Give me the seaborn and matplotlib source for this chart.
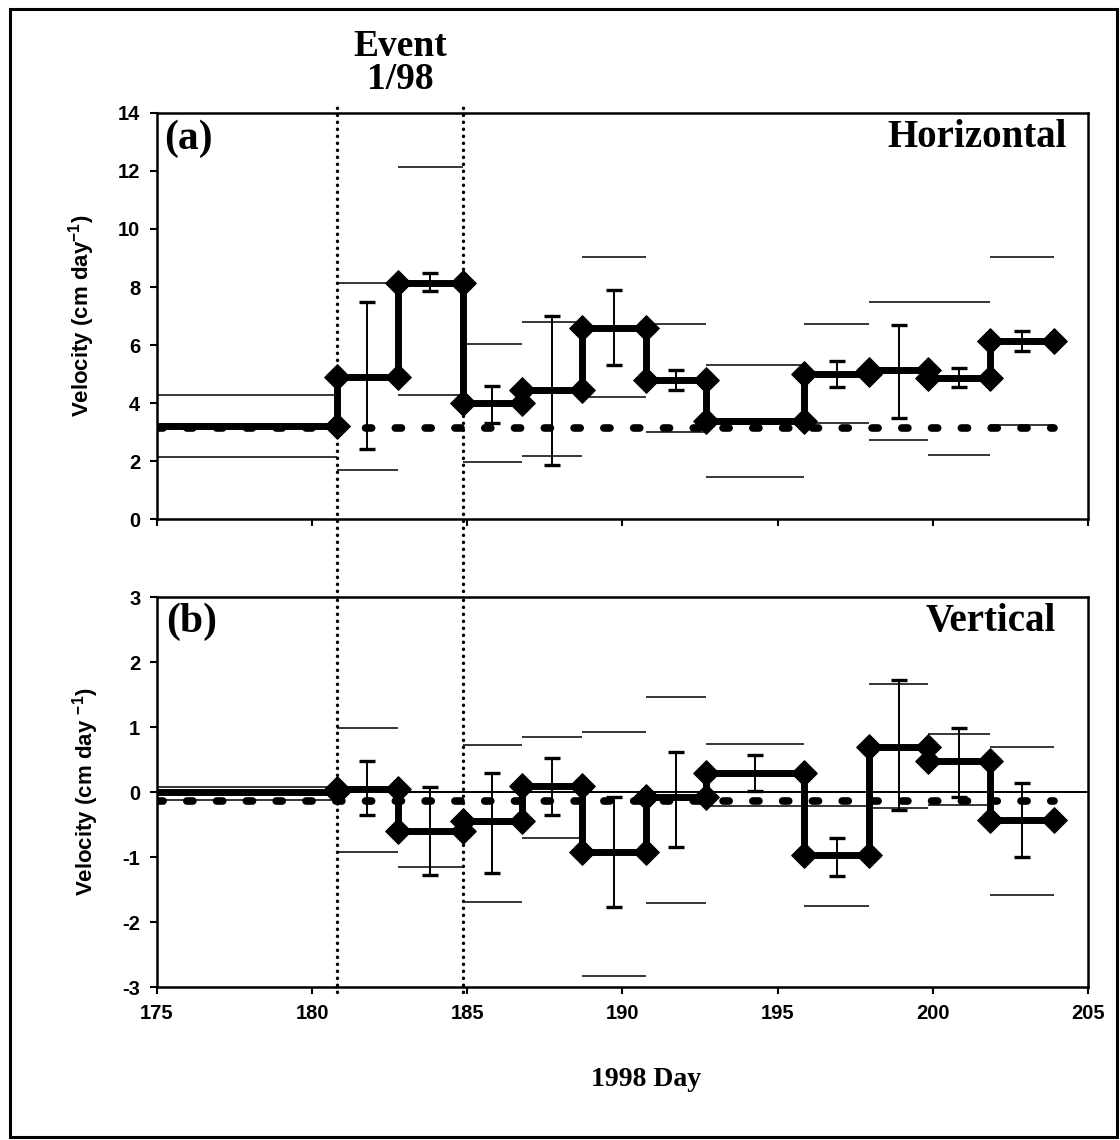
import numpy as np
import pandas as pd
import matplotlib
matplotlib.use("Agg")
import matplotlib.pyplot as plt
import seaborn as sns
from matplotlib.patches import Rectangle

nan = np.nan

# Survey interval boundaries (day of year, 1998)
day_edges = [175.0, 180.8, 182.75, 184.85, 186.75, 188.7, 190.75,
             192.7, 195.85, 197.95, 199.85, 201.85, 203.9]

# Horizontal velocity per interval (cm/day)
horiz_vel = [3.2, 4.9, 8.15, 4.0, 4.45, 6.6, 4.8, 3.38, 5.0, 5.15, 4.85, 6.15]
horiz_err_hi = [nan, 7.5, 8.5, 4.6, 7.0, 7.9, 5.15, nan, 5.45, 6.7, 5.2, 6.5]
horiz_err_lo = [nan, 2.4, 7.85, 3.3, 1.85, 5.3, 4.45, nan, 4.55, 3.5, 4.55, 5.8]
horiz_band_hi = [4.27, 8.15, 12.15, 6.05, 6.8, 9.05, 6.72, 5.3, 6.72, 7.5, 7.5, 9.05]
horiz_band_lo = [2.14, 1.68, 4.28, 1.95, 2.17, 4.22, 3.0, 1.45, 3.3, 2.72, 2.2, 3.25]
horiz_mean = 3.15

# Vertical velocity per interval (cm/day)
vert_vel = [0.0, 0.04, -0.6, -0.45, 0.1, -0.92, -0.08, 0.29, -0.97, 0.7, 0.47, -0.43]
vert_err_hi = [nan, 0.47, 0.07, 0.3, 0.52, -0.08, 0.62, 0.57, -0.71, 1.72, 0.98, 0.14]
vert_err_lo = [nan, -0.35, -1.28, -1.25, -0.35, -1.77, -0.85, 0.02, -1.29, -0.28, -0.08, -1.0]
vert_band_hi = [0.07, 0.98, 0.0, 0.72, 0.85, 0.92, 1.46, 0.74, -0.22, 1.66, 0.9, 0.7]
vert_band_lo = [-0.12, -0.93, -1.15, -1.69, -0.7, -2.83, -1.71, -0.22, -1.75, -0.25, -0.2, -1.58]
vert_mean = -0.14

# Event 1/98 window
event_days = [180.8, 184.85]

sns.set_theme(style="ticks")
plt.rcParams["font.family"] = ["Liberation Sans", "DejaVu Sans"]
plt.rcParams["mathtext.fontset"] = "custom"
plt.rcParams["mathtext.rm"] = "Liberation Sans"
plt.rcParams["mathtext.bf"] = "Liberation Sans:bold"
plt.rcParams["axes.unicode_minus"] = False
for key in ("text.color", "axes.labelcolor", "xtick.color", "ytick.color",
            "axes.edgecolor"):
    plt.rcParams[key] = "black"

SERIF = ["Liberation Serif", "DejaVu Serif"]

fig = plt.figure(figsize=(11.2, 11.4), dpi=100)
ax_h = fig.add_axes([0.1402, 0.5447, 0.8312, 0.3562])
ax_v = fig.add_axes([0.1402, 0.1342, 0.8312, 0.3421])


def draw_panel(ax, vel, err_hi, err_lo, band_hi, band_lo, mean):
    edges = np.asarray(day_edges)
    vel = np.asarray(vel)
    x0, x1 = edges[:-1], edges[1:]
    mid = (x0 + x1) / 2

    # long-term mean
    mean_df = pd.DataFrame({"day": [edges[0], edges[-1]], "vel": [mean, mean]})
    sns.lineplot(data=mean_df, x="day", y="vel", ax=ax, color="black", lw=5.5,
                 estimator=None, zorder=2)
    ax.lines[-1].set_linestyle((0, (0.8, 3.1)))
    ax.lines[-1].set_dash_capstyle("round")

    # confidence bounds as thin bars over each interval
    ax.hlines(band_hi, x0, x1, color="black", lw=1.1, zorder=3)
    ax.hlines(band_lo, x0, x1, color="black", lw=1.1, zorder=3)

    # stepped velocity series
    xs = np.repeat(edges, 2)[1:-1]
    ys = np.repeat(vel, 2)
    steps = pd.DataFrame({"day": xs, "vel": ys})
    sns.lineplot(data=steps, x="day", y="vel", ax=ax, sort=False, estimator=None,
                 color="black", lw=5, zorder=4)
    sns.scatterplot(data=steps.iloc[1:], x="day", y="vel", ax=ax, marker="D",
                    s=170, color="black", edgecolor="black", linewidth=0.8,
                    zorder=5)

    # error bars at interval midpoints
    hi = np.asarray(err_hi, dtype=float)
    lo = np.asarray(err_lo, dtype=float)
    ok = ~np.isnan(hi)
    ax.errorbar(mid[ok], vel[ok], yerr=[vel[ok] - lo[ok], hi[ok] - vel[ok]],
                fmt="none", ecolor="black", elinewidth=1.4, capsize=5.5,
                capthick=2.4, zorder=6)


draw_panel(ax_h, horiz_vel, horiz_err_hi, horiz_err_lo,
           horiz_band_hi, horiz_band_lo, horiz_mean)
draw_panel(ax_v, vert_vel, vert_err_hi, vert_err_lo,
           vert_band_hi, vert_band_lo, vert_mean)

# zero reference in the vertical panel
ax_v.axhline(0, color="black", lw=1.4, zorder=3)

for ax in (ax_h, ax_v):
    ax.set_xlim(175, 205)
    ax.set_xticks(np.arange(175, 206, 5))
    ax.set_xlabel("")
    ax.set_ylabel("")
    for sp in ax.spines.values():
        sp.set_visible(True)
        sp.set_linewidth(1.8)
        sp.set_color("black")
    ax.tick_params(direction="out", length=5, width=1.5, colors="black",
                   labelsize=14.5, pad=7)

ax_h.set_ylim(0, 14)
ax_h.set_yticks(np.arange(0, 15, 2))
ax_h.tick_params(axis="x", labelbottom=False)
ax_v.set_ylim(-3, 3)
ax_v.set_yticks(np.arange(-3, 4, 1))
for lab in ax_h.get_yticklabels() + ax_v.get_yticklabels() + ax_v.get_xticklabels():
    lab.set_fontweight("bold")
    lab.set_color("black")

# event window markers spanning both panels
for d in event_days:
    ax_h.axvline(d, ymin=-0.195, ymax=1.018, clip_on=False, color="black",
                 lw=2.4, linestyle=(0, (0.1, 2.0)), dash_capstyle="round",
                 zorder=7)
    ax_v.axvline(d, ymin=-0.012, ymax=1.0, clip_on=False, color="black",
                 lw=2.4, linestyle=(0, (0.1, 2.0)), dash_capstyle="round",
                 zorder=7)

fig.text(np.mean([ax_h.transData.transform((d, 0))[0] for d in event_days]) / fig.bbox.width,
         1 - 63 / 1140, "Event\n1/98", ha="center", va="center", fontsize=27,
         fontweight="bold", family=SERIF, linespacing=0.95, color="black")

ax_h.text(0.008, 0.985, "(a)", transform=ax_h.transAxes, ha="left", va="top",
          fontsize=30, fontweight="bold", family=SERIF, color="black")
ax_h.text(0.977, 0.985, "Horizontal", transform=ax_h.transAxes, ha="right",
          va="top", fontsize=28, fontweight="bold", family=SERIF, color="black")
ax_v.text(0.01, 0.985, "(b)", transform=ax_v.transAxes, ha="left", va="top",
          fontsize=30, fontweight="bold", family=SERIF, color="black")
ax_v.text(0.966, 0.985, "Vertical", transform=ax_v.transAxes, ha="right",
          va="top", fontsize=28, fontweight="bold", family=SERIF, color="black")

fig.text(82 / 1120, 1 - 316 / 1140, r"Velocity (cm day$^{\mathbf{-1}}$)",
         rotation=90, ha="center", va="center", fontsize=16, fontweight="bold",
         color="black")
fig.text(86 / 1120, 1 - 792 / 1140, r"Velocity (cm day $^{\mathbf{-1}}$)",
         rotation=90, ha="center", va="center", fontsize=16, fontweight="bold",
         color="black")

fig.text(646 / 1120, 1 - 1080 / 1140, "1998 Day", ha="center", va="center",
         fontsize=20, fontweight="bold", family=SERIF, color="black")

# outer frame
fig.patches.append(Rectangle((0.0089, 0.0026), 0.9884, 0.9895,
                             transform=fig.transFigure, fill=False,
                             lw=2.2, ec="black"))

fig.savefig("out.png", dpi=100, facecolor="white")
